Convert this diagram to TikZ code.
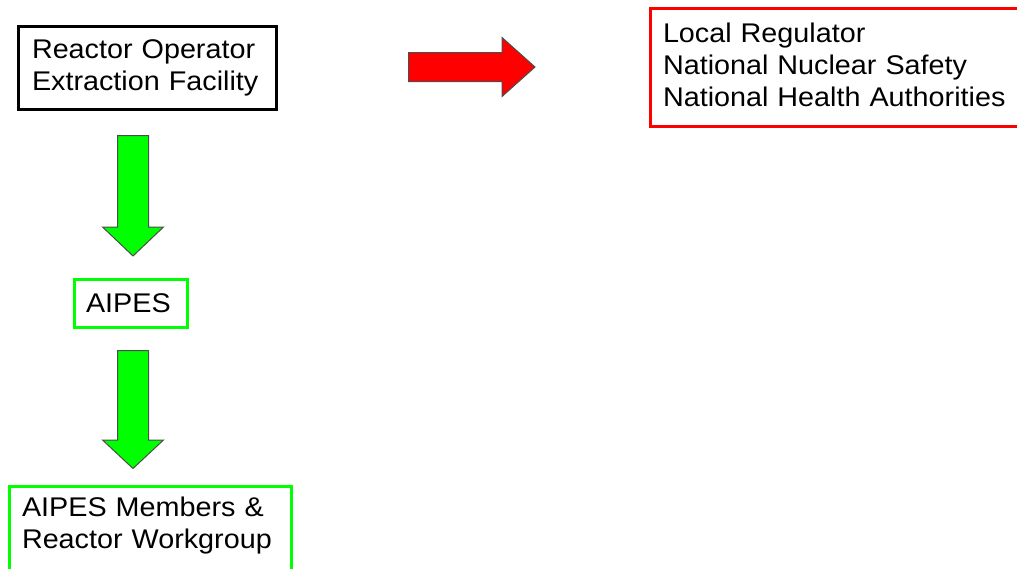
\documentclass[tikz,border=0pt]{standalone}
\usepackage{fontspec}
\setmainfont[FakeStretch=1.065]{Liberation Sans}
\usetikzlibrary{positioning}
\begin{document}
\begin{tikzpicture}[x=1pt,y=-1pt,font=\fontsize{27}{32}\selectfont,line join=miter]
\tikzstyle{box}=[draw,line width=3pt,align=left,inner sep=0pt,text=black]
\tikzstyle{blockarrow}=[draw=black!70,line width=1pt]
\useasboundingbox (0,0) rectangle (1017,568);
\node[box,draw=black,text width=231pt,minimum width=258pt,minimum height=83pt] (operator) at (147.5,68) {Reactor Operator\\Extraction Facility};
\node[box,draw=red,text width=347pt,text depth=69pt,minimum width=372pt,minimum height=118pt] (authorities) at (836.5,67.5) {Local Regulator\\National Nuclear Safety\\National Health Authorities};
\node[box,draw=green,text width=90pt,minimum width=113pt,minimum height=48pt] (aipes) at (131,303.5) {AIPES};
\node[box,draw=green,text width=257pt,text depth=52.7pt,minimum width=282pt,minimum height=94pt] (members) at (150.5,533.5) {AIPES Members \&\\Reactor Workgroup};
\foreach \top/\base/\tip in {135.5/227/256,350.5/440/468.5}
  \draw[blockarrow,fill=green] (117.5,\top) -- (148.5,\top) -- (148.5,\base) -- (163.5,\base) -- (133,\tip) -- (102.5,\base) -- (117.5,\base) -- cycle;
\draw[blockarrow,fill=red] (408.5,52.5) -- (502,52.5) -- (502,37.5) -- (535,67) -- (502,96.5) -- (502,81.5) -- (408.5,81.5) -- cycle;
\end{tikzpicture}
\end{document}
